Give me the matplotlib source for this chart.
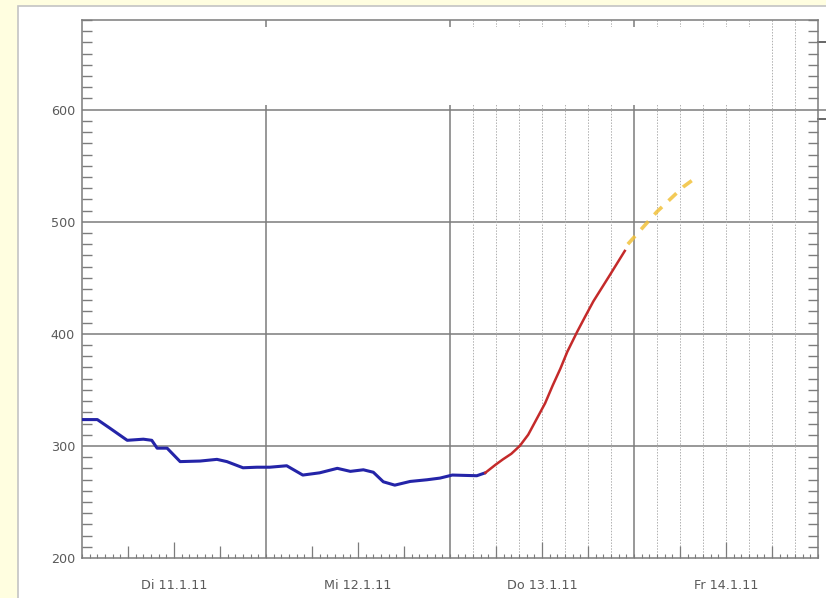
import numpy as np
import matplotlib.pyplot as plt
from matplotlib.patches import Rectangle

# Pegel: hours since Di 11.1.11 00:00, level in cm
hours_obs = [0, 2, 3.6, 5.9, 8, 9.1, 9.8, 11.1, 12.8, 15.4, 17.6, 18.9, 21, 22.8,
             24.5, 26.7, 28.8, 31, 33.3, 35, 36.7, 38, 39.3, 40.8, 42.8, 45,
             46.7, 48.3, 51.5, 52.6]
level_obs = [323.5, 323.5, 316, 305, 306, 305, 298, 298, 286, 286.5, 288, 286,
             280.5, 281, 281, 282.3, 274, 276, 280, 277.3, 278.7, 276.5, 268,
             265, 268.3, 269.8, 271.3, 274, 273.4, 276]

hours_rise = [52.6, 53.9, 54.9, 56.0, 57.1, 58.2, 59.3, 60.4, 61.4, 62.4, 63.3,
              64.6, 65.6, 66.7, 67.8, 68.9, 70.8]
level_rise = [276, 283, 288, 293, 300, 310, 324, 338, 354, 369, 384,
              402, 415, 429, 441, 453, 474]

hours_fc = [71.2, 75, 78.4, 80]
level_fc = [480, 509, 531, 539]

day_pos = [12, 36, 60, 84]
day_labels = ["Di 11.1.11", "Mi 12.1.11", "Do 13.1.11", "Fr 14.1.11"]
y_labels = [200, 300, 400, 500, 600]

grid_c = "#7c7c7c"
txt_c = "#5a5a5a"

fig = plt.figure(figsize=(8.26, 5.98), dpi=100)
fig.patch.set_facecolor("#fffee0")
fig.patches.append(Rectangle((18 / 826, -0.01), 1.0, 1 - 6 / 598 + 0.01,
                             transform=fig.transFigure, facecolor="white",
                             edgecolor="#c4c4c4", lw=1.2, zorder=-10))

ax = fig.add_axes([82 / 826, 1 - 558 / 598, (818 - 82) / 826, (558 - 20) / 598])
ax.set_xlim(0, 96)
ax.set_ylim(200, 680)

# grid
for y in y_labels[1:]:
    ax.axhline(y, color=grid_c, lw=1.1, zorder=1)
for d in [24, 48, 72]:
    ax.axvline(d, color=grid_c, lw=1.1, zorder=1)
for h in np.arange(51, 96, 3):
    if h != 72:
        ax.axvline(h, color="#b0b0b0", lw=0.7, ls=(0, (1.5, 1.5)), zorder=1)

# blank label area at the top
ax.add_patch(Rectangle((1.4, 604.5), 87.2, 69, facecolor="white",
                       edgecolor="none", zorder=2))

# series
ax.plot(hours_obs, level_obs, color="#2424a8", lw=2.2, zorder=4,
        solid_capstyle="round", solid_joinstyle="round")
ax.plot(hours_rise, level_rise, color="#c42a2a", lw=1.8, zorder=4)
ax.plot(hours_fc, level_fc, color="#f2c13a", lw=2.6, ls=(0, (3, 2.5)),
        alpha=0.85, zorder=4)

# axes styling
for s in ax.spines.values():
    s.set_color(grid_c)
    s.set_linewidth(1.1)

ax.set_xticks(day_pos)
ax.set_xticklabels(day_labels)
ax.set_xticks(np.arange(0, 97, 1), minor=True)
ax.tick_params(axis="x", which="major", direction="in", length=11.5,
               width=0.9, color=grid_c, pad=15, labelsize=9.2, labelcolor=txt_c)
ax.tick_params(axis="x", which="minor", direction="in", length=3,
               width=0.8, color=grid_c)
six = [h for h in range(6, 96, 6) if h % 12 != 0]
ax.vlines(six, 0, 12 / 538, transform=ax.get_xaxis_transform(),
          color=grid_c, lw=0.9, zorder=3)

ax.set_yticks(y_labels)
ax.set_yticklabels([str(v) for v in y_labels])
ax.set_yticks(np.arange(200, 681, 10), minor=True)
ax.tick_params(axis="y", which="major", length=0, pad=5, labelsize=9.2,
               labelcolor=txt_c)
ax.tick_params(axis="y", which="minor", direction="in", length=7, width=1.0,
               color=grid_c, left=True, right=True)

# stubs of the cut-off right scale
for y in [660, 592]:
    ax.plot([96, 97.2], [y, y], color="#666666", lw=1.4, clip_on=False)
ax.plot([96, 97.2], [600, 600], color=grid_c, lw=1.1, clip_on=False)

fig.savefig("out.png", dpi=100)
